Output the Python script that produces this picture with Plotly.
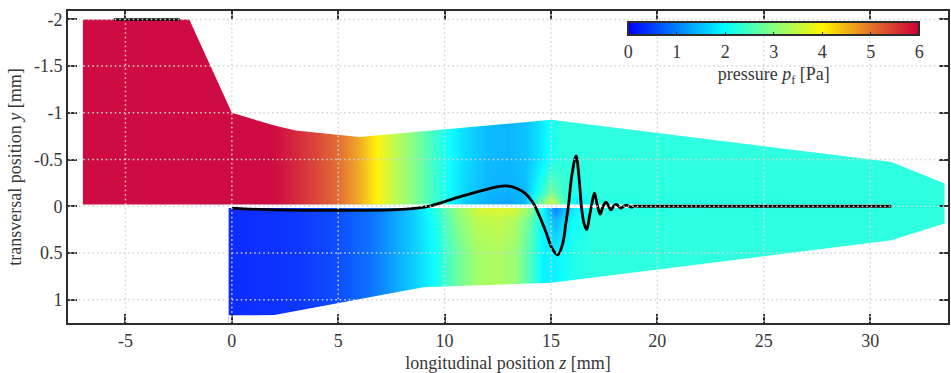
import plotly.graph_objects as go

# ---------------- data ----------------
x_ticks = [-5, 0, 5, 10, 15, 20, 25, 30]
x_ticktext = ["-5", "0", "5", "10", "15", "20", "25", "30"]
y_ticks = [-2, -1.5, -1, -0.5, 0, 0.5, 1]
y_ticktext = ["-2", "-1.5", "-1", "-0.5", "0", "0.5", "1"]
cbar_ticks = [0, 1, 2, 3, 4, 5, 6]

# channel walls (longitudinal z [mm], transversal y [mm])
upper_wall_z = [-7.0, -2.0, 0.0, 1.0, 2.0, 3.0, 4.5, 6.0, 15.0, 31.0, 33.5]
upper_wall_y = [-2.0, -2.0, -1.0, -0.93, -0.865, -0.81, -0.775, -0.74, -0.925, -0.474, -0.243]
lower_wall_z = [-0.15, 2.0, 9.0, 15.0, 31.0, 33.5]
lower_wall_y = [1.167, 1.165, 0.866, 0.82, 0.364, 0.185]
split_half_gap = 0.018
split_end_z = 31.0

# pressure field p_f [Pa], upper part
pu_z = [-7, 2, 3, 4, 5, 6, 6.8, 7.6, 8.5, 9.4, 10.1, 11, 12, 13, 13.8, 14.4, 15, 15.5, 16.2, 17, 33.5]
pu_y = [-2.0, -0.5, -0.15, -0.04]
pu_p = [
    [6.0, 6.0, 5.75, 5.45, 5.1, 4.6, 4.0, 3.45, 2.95, 2.45, 2.05, 1.7, 1.45, 1.4, 1.5, 1.75, 2.1, 2.25, 2.25, 2.25, 2.25],
    [6.0, 6.0, 5.75, 5.45, 5.1, 4.6, 4.0, 3.45, 2.95, 2.45, 2.05, 1.7, 1.45, 1.4, 1.5, 1.75, 2.1, 2.25, 2.25, 2.25, 2.25],
    [6.0, 6.0, 5.75, 5.45, 5.1, 4.6, 4.0, 3.45, 2.95, 2.45, 2.05, 1.65, 1.4, 1.35, 1.45, 2.1, 2.8, 2.4, 2.1, 2.25, 2.25],
    [6.0, 6.0, 5.75, 5.45, 5.1, 4.6, 4.0, 3.45, 2.95, 2.45, 2.0, 1.55, 1.35, 1.25, 1.45, 2.6, 3.6, 2.6, 1.8, 2.2, 2.25],
]
# pressure field p_f [Pa], lower part
pl_z = [-0.15, 3, 5, 6.5, 7.5, 8.5, 9.5, 10.5, 11.5, 12.5, 13.3, 14, 14.6, 15.2, 16, 17, 33.5]
pl_y = [0.04, 0.15, 0.5, 1.17]
pl_p = [
    [0.25, 0.35, 0.55, 0.85, 1.2, 1.6, 2.2, 3.0, 3.6, 3.7, 3.6, 3.0, 2.0, 1.0, 1.8, 2.2, 2.25],
    [0.25, 0.35, 0.55, 0.85, 1.2, 1.6, 2.1, 2.9, 3.4, 3.5, 3.3, 2.7, 2.0, 1.4, 2.0, 2.25, 2.25],
    [0.25, 0.35, 0.55, 0.85, 1.2, 1.6, 2.0, 2.7, 3.2, 3.3, 3.1, 2.5, 1.9, 1.9, 2.15, 2.25, 2.25],
    [0.25, 0.35, 0.55, 0.85, 1.2, 1.6, 2.0, 2.7, 3.2, 3.3, 3.1, 2.5, 1.9, 1.9, 2.15, 2.25, 2.25],
]

# displacement curve (black)
curve_z = [0, 2, 5, 7.5, 8.5, 9.3, 10.0, 10.7, 11.8, 12.4, 12.9, 13.4, 13.8, 14.15, 14.45, 14.77,
           15.05, 15.32, 15.55, 15.7, 15.82, 15.98, 16.18, 16.32, 16.43, 16.55, 16.68, 16.8, 16.9,
           17.04, 17.17, 17.31, 17.45, 17.59, 17.71, 17.82, 17.94, 18.06, 18.18, 18.3, 18.42,
           18.54, 18.66, 18.78, 18.9, 19.1, 31.0]
curve_y = [0.02, 0.04, 0.045, 0.04, 0.025, 0.0, -0.05, -0.1, -0.17, -0.205, -0.218, -0.19, -0.135,
           -0.04, 0.1, 0.28, 0.45, 0.52, 0.40, 0.18, 0.0, -0.33, -0.54, -0.3, 0.0, 0.18, 0.25, 0.12,
           0.0, -0.14, -0.02, 0.085, 0.0, -0.045, 0.0, 0.04, 0.0, -0.02, 0.0, 0.02, 0.0, -0.012,
           0.0, 0.01, 0.0, 0.0, 0.0]
inlet_z = [-5.54, -2.44]
inlet_y = [-2.0, -2.0]

colorscale = [
    [0.0, "rgb(0,0,255)"],
    [1 / 3, "rgb(0,255,255)"],
    [0.5, "rgb(135,255,125)"],
    [2 / 3, "rgb(255,245,0)"],
    [5 / 6, "rgb(228,115,40)"],
    [1.0, "rgb(205,0,55)"],
]

FONT = "Liberation Serif"
FS = 18
TXT = "rgb(55,55,55)"
AX = "rgb(45,45,45)"
XR_ = [-7.70, 33.66]
YR_ = [1.25, -2.09]

fig = go.Figure()
fig.add_trace(go.Heatmap(x=pu_z, y=pu_y, z=pu_p, coloraxis="coloraxis", zsmooth="best",
                         opacity=0.95, hoverinfo="skip"))
fig.add_trace(go.Heatmap(x=pl_z, y=pl_y, z=pl_p, coloraxis="coloraxis", zsmooth="best",
                         opacity=0.95, hoverinfo="skip"))

XL, XRR, YT, YB = -9.0, 35.0, -2.4, 1.5


def mask(xs, ys):
    fig.add_trace(go.Scatter(x=xs, y=ys, fill="toself", fillcolor="white", mode="lines",
                             line=dict(width=0, color="white"), hoverinfo="skip", showlegend=False))


# outside of the channel
mask(upper_wall_z + [XRR, XRR, XL, XL],
     upper_wall_y + [upper_wall_y[-1], YT, YT, upper_wall_y[0]])
mask([XL, upper_wall_z[0], upper_wall_z[0], XL], [YT, YT, YB, YB])
mask([upper_wall_z[-1], XRR, XRR, upper_wall_z[-1]], [YT, YT, YB, YB])
mask(lower_wall_z + [XRR, XRR, lower_wall_z[0]],
     lower_wall_y + [lower_wall_y[-1], YB, YB])
mask([XL, lower_wall_z[0], lower_wall_z[0], XL], [split_half_gap, split_half_gap, YB, YB])
mask([XL, split_end_z, split_end_z, XL], [-split_half_gap, -split_half_gap, split_half_gap, split_half_gap])

fig.add_trace(go.Scatter(x=curve_z, y=curve_y, mode="lines", line=dict(color="black", width=2.8, shape="spline"),
                         hoverinfo="skip", showlegend=False))
fig.add_trace(go.Scatter(x=inlet_z, y=inlet_y, mode="lines", line=dict(color="black", width=2.5),
                         hoverinfo="skip", showlegend=False))

grid = dict(color="rgb(212,212,212)", width=1.5, dash="1.5px,3px")
shapes = []
for xv in x_ticks:
    shapes.append(dict(type="line", xref="x", yref="paper", x0=xv, x1=xv, y0=0.004, y1=0.996,
                       line=grid, layer="above"))
for yv in y_ticks:
    shapes.append(dict(type="line", xref="paper", yref="y", x0=0.002, x1=0.998, y0=yv, y1=yv,
                       line=grid, layer="above"))

axis_common = dict(ticks="inside", ticklen=9, tickwidth=1.5, tickcolor=AX, showline=True, linewidth=2,
                   linecolor=AX, mirror="ticks", showgrid=False, zeroline=False, layer="above traces",
                   tickfont=dict(family=FONT, size=FS, color=TXT))

fig.update_layout(
    width=951, height=373,
    margin=dict(l=68, r=1, t=11, b=50),
    paper_bgcolor="white", plot_bgcolor="white",
    showlegend=False,
    shapes=shapes,
    xaxis=dict(range=XR_, tickmode="array", tickvals=x_ticks, ticktext=x_ticktext,
               title=dict(text="longitudinal position <i>z</i> [mm]", standoff=8,
                          font=dict(family=FONT, size=FS, color=TXT)),
               **axis_common),
    yaxis=dict(range=YR_, tickmode="array", tickvals=y_ticks, ticktext=y_ticktext,
               title=dict(text="transversal position <i>y</i> [mm]", standoff=8,
                          font=dict(family=FONT, size=FS, color=TXT)),
               **axis_common),
    coloraxis=dict(
        colorscale=colorscale, cmin=0, cmax=6,
        colorbar=dict(
            orientation="h", x=0.802, xanchor="center", y=0.965, yanchor="top",
            len=0.331, lenmode="fraction", thickness=13, thicknessmode="pixels",
            xpad=0, ypad=0, outlinewidth=2, outlinecolor=AX,
            ticks="inside", ticklen=4, tickcolor=AX, tickvals=cbar_ticks,
            tickfont=dict(family=FONT, size=FS, color=TXT),
            title=dict(text="pressure <i>p</i><sub>f</sub> [Pa]", side="bottom",
                       font=dict(family=FONT, size=FS, color=TXT)),
        ),
    ),
)

fig.write_html("out.html")
